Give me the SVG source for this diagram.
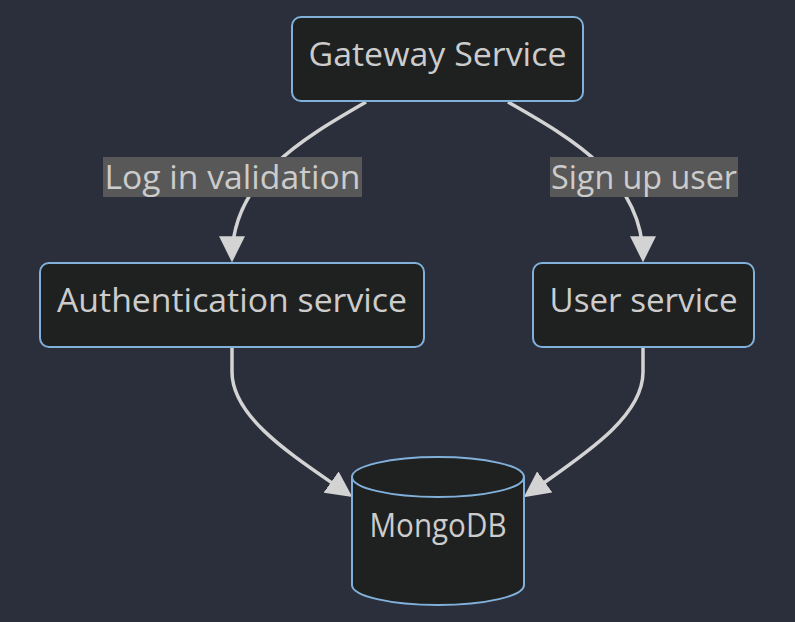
<svg xmlns="http://www.w3.org/2000/svg" width="795" height="622" viewBox="0 0 795 622">
<defs>
<style>
.node rect,.node path{fill:#1f2020;stroke:#81b1db;stroke-width:2}
.t{font-family:"Open Sans","DejaVu Sans",sans-serif;font-size:33px;fill:#cccccc;text-anchor:middle}
.edge{fill:none;stroke:#d3d3d3;stroke-width:3.5}
.lbg{fill:#585858}
</style>
<marker id="arr" viewBox="0 0 12 12" markerWidth="26" markerHeight="26" markerUnits="userSpaceOnUse" refX="10" refY="6" orient="auto">
<path d="M0,0 L12,6 L0,12 z" fill="#d3d3d3"/>
</marker>
</defs>
<rect width="795" height="622" fill="#2a2f3b"/>
<g id="edges">
<path class="edge" d="M366,102 C300,140 232,180 232,258" marker-end="url(#arr)"/>
<path class="edge" d="M508,102 C575,140 643,180 643,258" marker-end="url(#arr)"/>
<path class="edge" d="M232,348 L232,372 C232,420 300,460 348.8,494.6" marker-end="url(#arr)"/>
<path class="edge" d="M643,348 L643,372 C643,420 575,460 527.2,494.6" marker-end="url(#arr)"/>
<g id="label-login"><rect class="lbg" x="103" y="157" width="259" height="40"/><text class="t" x="232.5" y="189" textLength="256" lengthAdjust="spacingAndGlyphs">Log in validation</text></g>
<g id="label-signup"><rect class="lbg" x="550" y="157" width="188" height="40"/><text class="t" x="644" y="189" textLength="186" lengthAdjust="spacingAndGlyphs">Sign up user</text></g>
</g>
<g id="gateway" class="node"><rect x="292" y="17" width="291" height="84" rx="9"/><text class="t" x="437.5" y="66" textLength="258" lengthAdjust="spacingAndGlyphs">Gateway Service</text></g>
<g id="auth" class="node"><rect x="40" y="263" width="384" height="84" rx="9"/><text class="t" x="232" y="312" textLength="350" lengthAdjust="spacingAndGlyphs">Authentication service</text></g>
<g id="user" class="node"><rect x="533" y="263" width="221" height="84" rx="9"/><text class="t" x="643.5" y="312" textLength="188" lengthAdjust="spacingAndGlyphs">User service</text></g>
<g id="mongodb" class="node"><path d="M352,477 a86,20 0 0,0 172,0 a86,20 0 0,0 -172,0 l0,108 a86,20 0 0,0 172,0 l0,-108"/><text class="t" x="438" y="537" textLength="137" lengthAdjust="spacingAndGlyphs">MongoDB</text></g>
</svg>
